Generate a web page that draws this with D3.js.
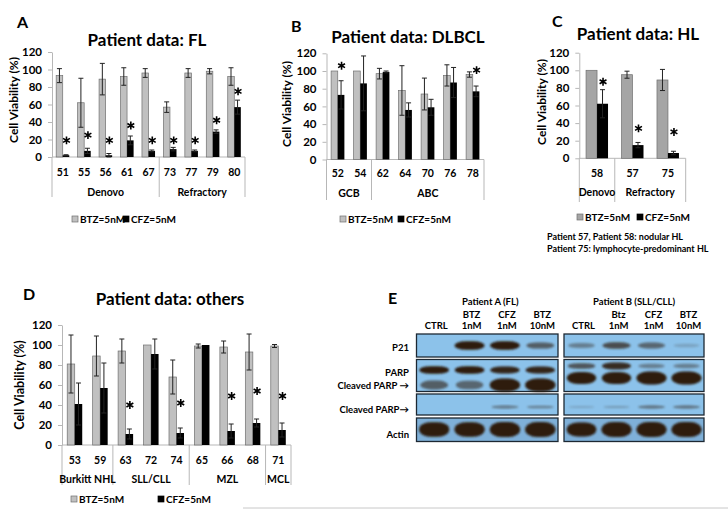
<!DOCTYPE html>
<html><head><meta charset="utf-8">
<script src="https://cdn.jsdelivr.net/npm/d3@7"></script>
<style>
body{margin:0;background:#fff}
svg{display:block}
text{font-family:Lato,"Open Sans","DejaVu Sans",sans-serif;font-weight:700;fill:#000}
</style>
</head><body>
<svg id="c" width="728" height="509"></svg>
<script>
// ---------- DATA ----------
const yTicks = [0,20,40,60,80,100,120];
const seriesNames = ["BTZ=5nM","CFZ=5nM"];

// Panel A: FL
const flCats = ["51","55","56","61","67","73","77","79","80"];
const flGroups = ["Denovo","Refractory"];
const flGroupSizes = [5,4];
const flBtz = [93,62,89,92,96,57,96,98,92];
const flBtzErr = [8,28,18,10,5,6,5,3,10];
const flCfz = [2,7,2,19,7,9,7,29,57];
const flCfzErr = [0.6,3,2,5,1,2,1,2,8];
const flStars = [19,25,19,36,19,19,19,42,75];

// Panel B: DLBCL
const dlCats = ["52","54","62","64","70","76","78"];
const dlGroups = ["GCB","ABC"];
const dlGroupSizes = [2,5];
const dlBtz = [100,100,97,78,74,95,96];
const dlBtzErr = [0,0,6,28,18,12,3];
const dlCfz = [73,86,99,56,59,87,77];
const dlCfzErr = [16,31,1,8,9,17,6];
const dlStars = [106,null,null,null,null,null,101];

// Panel C: HL
const hlCats = ["58","57","75"];
const hlGroups = ["Denovo","Refractory"];
const hlGroupSizes = [1,2];
const hlBtz = [100,95,89];
const hlBtzErr = [0,4,12];
const hlCfz = [62,15,6];
const hlCfzErr = [16,3,2];
const hlStars = [87,34,30];
const hlNotes = ["Patient 57, Patient 58: nodular HL","Patient 75: lymphocyte-predominant HL"];

// Panel D: others
const otCats = ["53","59","63","72","74","65","66","68","71"];
const otGroups = ["Burkitt NHL","SLL/CLL","MZL","MCL"];
const otGroupSizes = [2,3,3,1];
const otBtz = [81,89,94,100,68,99,98,93,99];
const otBtzErr = [29,20,12,0,17,2,6,18,1.5];
const otCfz = [41,57,11,91,12,100,14,22,15];
const otCfzErr = [21,25,5,15,5,0,7,4,7];
const otStars = [null,null,40,null,42,null,49,54,49];

// Panel E: western blot
const blotPatients = ["Patient A (FL)","Patient B (SLL/CLL)"];
const laneTopA = ["","BTZ","CFZ","BTZ"];
const laneTopB = ["","Btz","CFZ","BTZ"];
const laneBottom = ["CTRL","1nM","1nM","10nM"];
const p21A = [0,0.95,0.9,0.5];
const p21B = [0.3,0.6,0.45,0.08];
const parpFullA = [0.9,0.9,0.85,0.85];
const parpFullB = [0.55,0.8,0.3,0.3];
const parpCleavedA = [0.5,0.45,1,1];
const parpCleavedB = [0.9,0.9,1,1];
const cleavedA = [0,0,0.35,0.3];
const cleavedB = [0.08,0.15,0.4,0.4];
const actinA = [0.95,0.95,1,1];
const actinB = [0.9,1,1,1];

// ---------- DRAW ----------
const svg = d3.select("#c");
const defs = svg.append("defs");
defs.append("filter").attr("id","blur").attr("x","-20%").attr("y","-50%").attr("width","140%").attr("height","200%")
  .append("feGaussianBlur").attr("stdDeviation",1.1);
const starPath = d3.symbol().type(d3.symbolAsterisk).size(44)();

function barPanel(L, cats, groups, sizes, btz, btzErr, cfz, cfzErr, stars){
  const g = svg.append("g");
  const y = d3.scaleLinear().domain([0,120]).range([L.y0, L.y120]);
  const x = d3.scaleBand().domain(cats).range([L.xl, L.xr]).paddingInner(L.pad).paddingOuter(L.pad/2);
  const xs = d3.scaleBand().domain(seriesNames).range([0, x.bandwidth()]);
  const axisCol = "#b7b7b7";

  const ya = g.append("g").attr("transform",`translate(${L.xl},0)`)
    .call(d3.axisLeft(y).tickValues(yTicks).tickSize(4).tickSizeOuter(0).tickPadding(6));
  ya.select(".domain").attr("stroke",axisCol);
  ya.selectAll(".tick line").attr("stroke",axisCol);
  ya.selectAll(".tick text").style("font-size","11.5px").attr("fill","#000");

  g.append("line").attr("x1",L.xl).attr("x2",L.xr).attr("y1",L.y0).attr("y2",L.y0).attr("stroke",axisCol);
  let bounds = [0]; sizes.forEach(s=>bounds.push(bounds[bounds.length-1]+s));
  const step = x.step();
  bounds.forEach(b=>{
    const bx = L.xl + b*step;
    g.append("line").attr("x1",bx).attr("x2",bx).attr("y1",L.y0).attr("y2",L.sepY).attr("stroke",axisCol);
  });
  g.selectAll(".cl").data(cats).enter().append("text")
    .attr("x",d=>x(d)+x.bandwidth()/2).attr("y",L.catY).attr("text-anchor","middle")
    .style("font-size","10.5px").text(d=>d);
  groups.forEach((gn,i)=>{
    const cx = L.xl + (bounds[i]+bounds[i+1])/2*step;
    g.append("text").attr("x",cx).attr("y",L.grpY).attr("text-anchor","middle").style("font-size","10.5px").text(gn);
  });

  const data = cats.map((c,i)=>({c, b:btz[i], be:btzErr[i], f:cfz[i], fe:cfzErr[i], s:stars[i]}));
  g.selectAll(".bb").data(data).enter().append("rect")
    .attr("x",d=>x(d.c)+xs(seriesNames[0])).attr("width",xs.bandwidth())
    .attr("y",d=>y(d.b)).attr("height",d=>y(0)-y(d.b))
    .attr("fill",L.btzFill).attr("stroke","#6f6f6f").attr("stroke-width",0.7);
  g.selectAll(".fb").data(data).enter().append("rect")
    .attr("x",d=>x(d.c)+xs(seriesNames[1])).attr("width",xs.bandwidth())
    .attr("y",d=>y(d.f)).attr("height",d=>y(0)-y(d.f))
    .attr("fill","#000");

  function errBars(key,ekey,sname){
    const ed = data.filter(d=>d[ekey]>0);
    const cx = d=>x(d.c)+xs(sname)+xs.bandwidth()/2;
    g.selectAll(null).data(ed).enter().append("line")
      .attr("x1",cx).attr("x2",cx).attr("y1",d=>y(d[key]-d[ekey])).attr("y2",d=>y(d[key]+d[ekey]))
      .attr("stroke","#222").attr("stroke-width",1);
    [1,-1].forEach(sg=>{
      g.selectAll(null).data(ed).enter().append("line")
        .attr("x1",d=>cx(d)-2.5).attr("x2",d=>cx(d)+2.5)
        .attr("y1",d=>y(d[key]+sg*d[ekey])).attr("y2",d=>y(d[key]+sg*d[ekey]))
        .attr("stroke","#222").attr("stroke-width",1);
    });
  }
  errBars("b","be",seriesNames[0]);
  errBars("f","fe",seriesNames[1]);

  g.selectAll(".st").data(data.filter(d=>d.s!=null)).enter().append("path")
    .attr("d",starPath)
    .attr("transform",d=>`translate(${x(d.c)+xs(seriesNames[1])+xs.bandwidth()/2+0.5},${y(d.s)})`)
    .attr("fill","none").attr("stroke","#000").attr("stroke-width",1.6);

  g.append("text").attr("transform",`translate(${L.ylabX},${L.ylabY}) rotate(-90)`)
    .attr("text-anchor","middle").attr("dominant-baseline","central")
    .style("font-size",L.ylabSize+"px").text("Cell Viability (%)");
  g.append("text").attr("x",L.titleX).attr("y",L.titleY).attr("text-anchor","middle").style("font-size","17px").text(L.title);
  g.append("text").attr("x",L.letterX).attr("y",L.letterY).style("font-size","16px").text(L.letter);

  const lg = [ {x:L.legBtzX, fill:L.btzFill, stroke:"#6f6f6f", t:seriesNames[0]}, {x:L.legCfzX, fill:"#000", stroke:"#000", t:seriesNames[1]} ];
  lg.forEach(it=>{
    g.append("rect").attr("x",it.x).attr("y",L.legY-3).attr("width",6).attr("height",6).attr("fill",it.fill).attr("stroke",it.stroke).attr("stroke-width",0.7);
    g.append("text").attr("x",it.x+8).attr("y",L.legY).attr("dominant-baseline","central").style("font-size","10px").text(it.t);
  });
  return g;
}

barPanel({xl:52,xr:245,y0:157,y120:52,pad:0.39,btzFill:"#c0c0c0",catY:176,grpY:196,sepY:197,
  ylabX:13,ylabY:100,ylabSize:12,title:"Patient data: FL",titleX:147,titleY:46,letter:"A",letterX:17,letterY:28,
  legY:219,legBtzX:72,legCfzX:123}, flCats, flGroups, flGroupSizes, flBtz, flBtzErr, flCfz, flCfzErr, flStars);

barPanel({xl:326.5,xr:484,y0:159.5,y120:53.3,pad:0.41,btzFill:"#c0c0c0",catY:177,grpY:197,sepY:200,
  ylabX:286,ylabY:104,ylabSize:12,title:"Patient data: DLBCL",titleX:408,titleY:42.5,letter:"B",letterX:291,letterY:31.5,
  legY:219,legBtzX:340,legCfzX:398}, dlCats, dlGroups, dlGroupSizes, dlBtz, dlBtzErr, dlCfz, dlCfzErr, dlStars);

barPanel({xl:579.3,xr:685.7,y0:158.3,y120:52.7,pad:0.38,btzFill:"#a5a5a5",catY:177,grpY:196,sepY:202,
  ylabX:541,ylabY:102,ylabSize:12,title:"Patient data: HL",titleX:638,titleY:39.5,letter:"C",letterX:552,letterY:27,
  legY:217,legBtzX:577,legCfzX:637}, hlCats, hlGroups, hlGroupSizes, hlBtz, hlBtzErr, hlCfz, hlCfzErr, hlStars);

svg.selectAll(".note").data(hlNotes).enter().append("text")
  .attr("x",547).attr("y",(d,i)=>240+i*11.5).style("font-size","9px").text(d=>d);

barPanel({xl:62,xr:291,y0:445,y120:325,pad:0.41,btzFill:"#c0c0c0",catY:464,grpY:483,sepY:485,
  ylabX:19,ylabY:385,ylabSize:12.5,title:"Patient data: others",titleX:170,titleY:305,letter:"D",letterX:23,letterY:300,
  legY:499,legBtzX:71,legCfzX:158}, otCats, otGroups, otGroupSizes, otBtz, otBtzErr, otCfz, otCfzErr, otStars);

// ---------- Western blot ----------
(function(){
  const g = svg.append("g");
  const panels = [
    {x0:416.5,x1:558, top:laneTopA, rows:[p21A,[parpFullA,parpCleavedA],cleavedA,actinA], name:blotPatients[0], a:true},
    {x0:564,x1:704, top:laneTopB, rows:[p21B,[parpFullB,parpCleavedB],cleavedB,actinB], name:blotPatients[1], a:false}
  ];
  const rowBoxes = [ [334,357],[359.5,391.5],[394,415],[418,441.5] ];
  const rowLabels = [
    {t:"P21",y:347}, {t:"PARP",y:372}, {t:"Cleaved PARP \u2192",y:385}, {t:"Cleaved PARP\u2192",y:409.5}, {t:"Actin",y:434}
  ];
  rowLabels.forEach(r=>g.append("text").attr("x",409).attr("y",r.y).attr("text-anchor","end")
     .attr("dominant-baseline","central").style("font-size","9.5px").text(r.t));
  g.append("text").attr("x",388).attr("y",303.5).style("font-size","16px").text("E");

  const bandCol = "#2d1b09";
  panels.forEach(p=>{
    const lx = d3.scaleBand().domain(d3.range(4)).range([p.x0,p.x1]);
    g.append("text").attr("x",(p.x0+p.x1)/2+(p.a?3:0)).attr("y",301).attr("text-anchor","middle")
      .attr("dominant-baseline","central").style("font-size","9.5px").text(p.name);
    p.top.forEach((t,i)=>g.append("text").attr("x",lx(i)+lx.bandwidth()/2+2).attr("y",314).attr("text-anchor","middle")
      .attr("dominant-baseline","central").style("font-size","9.5px").text(t));
    laneBottom.forEach((t,i)=>g.append("text").attr("x",lx(i)+lx.bandwidth()/2+2).attr("y",325).attr("text-anchor","middle")
      .attr("dominant-baseline","central").style("font-size","9.5px").text(t));

    rowBoxes.forEach((rb,ri)=>{
      g.append("rect").attr("x",p.x0).attr("y",rb[0]).attr("width",p.x1-p.x0).attr("height",rb[1]-rb[0])
        .attr("fill", ri===3 ? "#7fb0d8" : "#8cc2ea").attr("stroke","#1d2833").attr("stroke-width",1.3);
    });
    function bands(vals, cy, base){
      vals.forEach((v,i)=>{
        if(v<=0) return;
        const h = base*(0.35+0.65*v);
        const w = lx.bandwidth()*(0.72+0.14*v);
        g.append("rect").attr("x",lx(i)+lx.bandwidth()/2-w/2).attr("y",cy-h/2).attr("width",w).attr("height",h)
          .attr("rx",w/2.6).attr("ry",h/2).attr("fill",bandCol).attr("opacity",Math.min(1,0.1+v))
          .attr("filter","url(#blur)");
      });
    }
    bands(p.rows[0], 345.5, 9);
    bands(p.rows[1][0], p.a?370:366, 8);
    bands(p.rows[1][1], p.a?385:378, 13);
    bands(p.rows[2], 407, 5);
    bands(p.rows[3], 429.5, 15);
  });
})();

svg.append("line").attr("x1",243).attr("x2",728).attr("y1",508).attr("y2",508).attr("stroke","#c8c8c8");
</script>
</body></html>
